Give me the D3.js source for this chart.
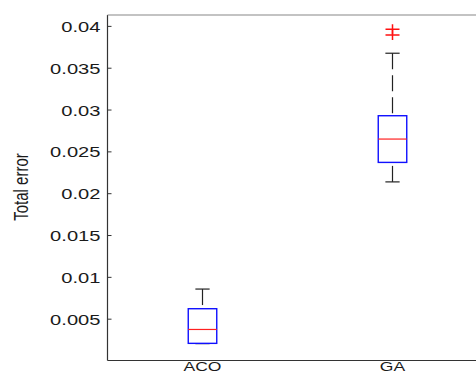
<!DOCTYPE html>
<html>
<head>
<meta charset="utf-8">
<script src="https://cdn.jsdelivr.net/npm/d3@7"></script>
<style>
  body { margin: 0; background: #fff; }
  text { font-family: "Liberation Sans", Arial, sans-serif; fill: #1a1a1a; }
</style>
</head>
<body>
<div id="chart"></div>
<script>
// box plot values
const groups = ['ACO', 'GA'];
const whiskerLow = [0.00202, 0.02135];
const q1 = [0.00205, 0.02368];
const median = [0.00371, 0.02647];
const q3 = [0.00619, 0.02926];
const whiskerHigh = [0.00854, 0.03673];
const outliers = [[], [0.0396, 0.0389]];

const tickValues = [0.005, 0.01, 0.015, 0.02, 0.025, 0.03, 0.035, 0.04];
const tickLabels = ['0.005', '0.01', '0.015', '0.02', '0.025', '0.03', '0.035', '0.04'];

let width = 476;
let height = 374;
let plotLeft = 107.5, plotRight = 487.5, plotTop = 15, plotBottom = 360.5;
let sx = 1.3; // picture is stretched sideways

let svg = d3.select('#chart')
  .append('svg')
  .attr('width', width)
  .attr('height', height);

let x = d3.scaleLinear().domain([0.5, 2.5]).range([plotLeft, plotRight]);
let y = d3.scaleLinear().domain([0, 0.0413]).range([plotBottom, plotTop]);

// y axis with inward ticks
let yAxis = d3.axisLeft(y)
  .tickValues(tickValues)
  .tickFormat((d, i) => tickLabels[i])
  .tickSizeInner(-4)
  .tickSizeOuter(0);

let gy = svg.append('g')
  .attr('transform', `translate(${plotLeft},0)`)
  .call(yAxis);
gy.select('.domain').remove();
gy.selectAll('line').attr('stroke', '#333');
gy.selectAll('text')
  .attr('x', null)
  .attr('dy', '0.36em')
  .attr('transform', `translate(-7,0) scale(${sx},1)`)
  .style('font-size', '15.5px');

// frame
svg.append('line')
  .attr('x1', plotLeft).attr('x2', plotLeft).attr('y1', plotTop).attr('y2', plotBottom)
  .attr('stroke', '#333').attr('stroke-width', 1.2);
svg.append('line')
  .attr('x1', plotLeft).attr('x2', width).attr('y1', plotBottom).attr('y2', plotBottom)
  .attr('stroke', '#333').attr('stroke-width', 1.2);
svg.append('line')
  .attr('x1', plotLeft).attr('x2', width).attr('y1', plotTop).attr('y2', plotTop)
  .attr('stroke', '#888').attr('stroke-width', 1.2);

let boxW = 0.075, capW = 0.0375;

let g = svg.selectAll('g.box')
  .data(groups)
  .enter()
  .append('g')
  .attr('class', 'box');

// whiskers (dashes start at the caps)
g.append('line')
  .attr('x1', (d, i) => x(i + 1)).attr('x2', (d, i) => x(i + 1))
  .attr('y1', (d, i) => y(whiskerHigh[i])).attr('y2', (d, i) => y(q3[i]))
  .attr('stroke', '#222').attr('stroke-width', 1.2)
  .attr('stroke-dasharray', '16,6');
g.append('line')
  .attr('x1', (d, i) => x(i + 1)).attr('x2', (d, i) => x(i + 1))
  .attr('y1', (d, i) => y(whiskerLow[i])).attr('y2', (d, i) => y(q1[i]))
  .attr('stroke', '#222').attr('stroke-width', 1.2)
  .attr('stroke-dasharray', '16,6');

// caps
[whiskerHigh, whiskerLow].forEach(arr => {
  g.append('line')
    .attr('x1', (d, i) => x(i + 1 - capW)).attr('x2', (d, i) => x(i + 1 + capW))
    .attr('y1', (d, i) => y(arr[i])).attr('y2', (d, i) => y(arr[i]))
    .attr('stroke', '#222').attr('stroke-width', 1.2);
});

// boxes
g.append('rect')
  .attr('x', (d, i) => x(i + 1 - boxW))
  .attr('width', (d, i) => x(i + 1 + boxW) - x(i + 1 - boxW))
  .attr('y', (d, i) => y(q3[i]))
  .attr('height', (d, i) => y(q1[i]) - y(q3[i]))
  .attr('fill', 'none')
  .attr('stroke', '#1010ff').attr('stroke-width', 1.4);

// medians
g.append('line')
  .attr('x1', (d, i) => x(i + 1 - boxW)).attr('x2', (d, i) => x(i + 1 + boxW))
  .attr('y1', (d, i) => y(median[i])).attr('y2', (d, i) => y(median[i]))
  .attr('stroke', '#ff2020').attr('stroke-width', 1.2);

// outliers as red plus signs
groups.forEach((name, i) => {
  outliers[i].forEach(v => {
    let cx = x(i + 1), cy = y(v);
    svg.append('path')
      .attr('d', `M${cx - 7},${cy}H${cx + 7}M${cx},${cy - 5}V${cy + 5}`)
      .attr('stroke', '#ff1010').attr('stroke-width', 1.5).attr('fill', 'none');
  });
});

// category labels, tucked just under the axis so they stay whole
g.append('text')
  .attr('transform', (d, i) => `translate(${x(i + 1)},371) scale(${sx},1)`)
  .attr('text-anchor', 'middle')
  .style('font-size', '13.5px')
  .text(d => d);

// y label
svg.append('text')
  .attr('transform', `translate(28,187) scale(${sx},1) rotate(-90)`)
  .attr('text-anchor', 'middle')
  .style('font-size', '15px')
  .text('Total error');
</script>
</body>
</html>
